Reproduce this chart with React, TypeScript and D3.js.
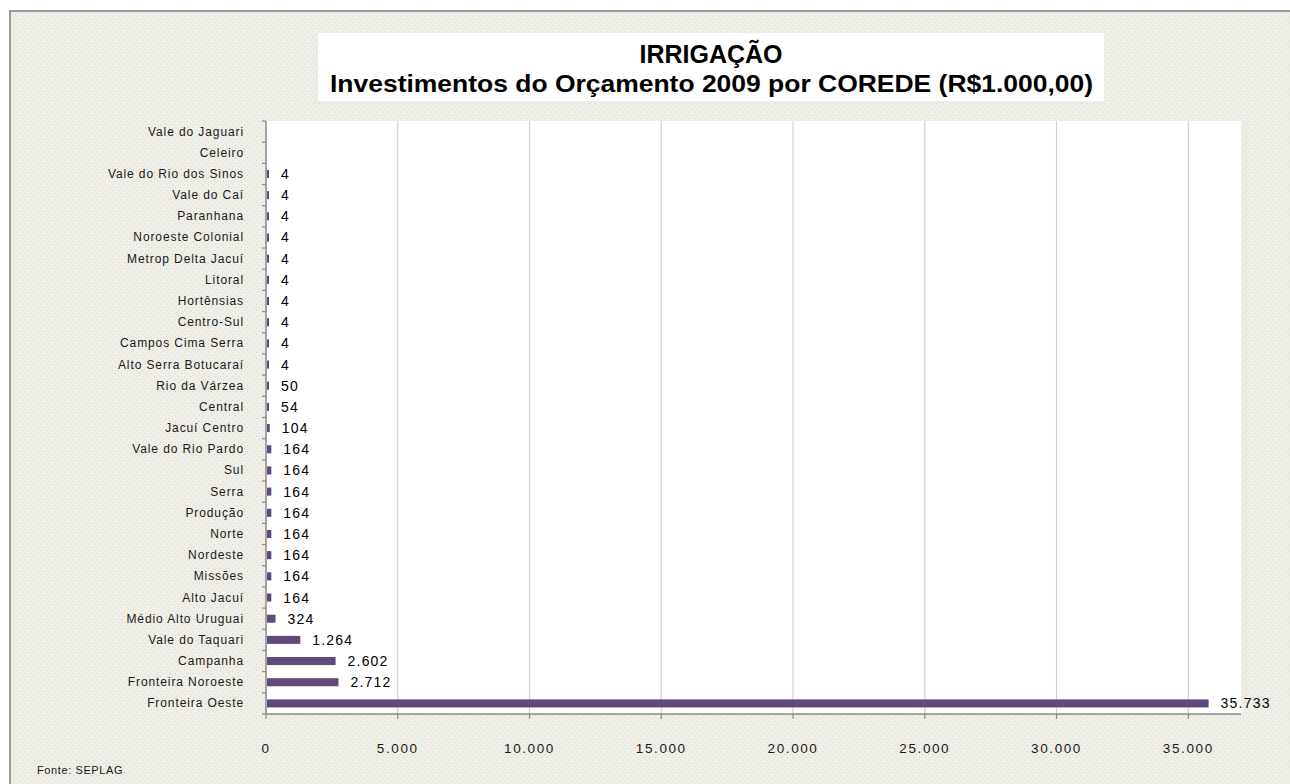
import React from "react";
import * as d3 from "d3";

// COREDE names, top to bottom as drawn
const categories = [
  "Vale do Jaguari",
  "Celeiro",
  "Vale do Rio dos Sinos",
  "Vale do Caí",
  "Paranhana",
  "Noroeste Colonial",
  "Metrop Delta Jacuí",
  "Litoral",
  "Hortênsias",
  "Centro-Sul",
  "Campos Cima Serra",
  "Alto Serra Botucaraí",
  "Rio da Várzea",
  "Central",
  "Jacuí Centro",
  "Vale do Rio Pardo",
  "Sul",
  "Serra",
  "Produção",
  "Norte",
  "Nordeste",
  "Missões",
  "Alto Jacuí",
  "Médio Alto Uruguai",
  "Vale do Taquari",
  "Campanha",
  "Fronteira Noroeste",
  "Fronteira Oeste",
];

// investimentos (R$1.000,00)
const values = [
  0, 0, 4, 4, 4, 4, 4, 4, 4, 4, 4, 4, 50, 54, 104, 164, 164, 164, 164, 164,
  164, 164, 164, 324, 1264, 2602, 2712, 35733,
];

const xTicks = [0, 5000, 10000, 15000, 20000, 25000, 30000, 35000];

const titleLine1 = "IRRIGAÇÃO";
const titleLine2 = "Investimentos do Orçamento 2009 por COREDE (R$1.000,00)";
const source = "Fonte:  SEPLAG";

const W = 1290;
const H = 784;
const plot = { left: 266, right: 1241, top: 121, bottom: 714 };

const fmt = (v: number) => d3.format(",")(v).replace(/,/g, ".");

const App = () => {
  const x = d3.scaleLinear().domain([0, 37000]).range([plot.left, plot.right]);
  const y = d3
    .scaleBand<string>()
    .domain(categories)
    .range([plot.top, plot.bottom])
    .paddingInner(0.62)
    .paddingOuter(0.31);
  const step = y.step();

  const font = "Arial, 'Liberation Sans', sans-serif";

  return (
    <svg
      width={W}
      height={H}
      style={{ position: "absolute", left: 0, top: 0, background: "#fff" }}
      fontFamily={font}
    >
      <defs>
        <pattern id="dots" width="6" height="6" patternUnits="userSpaceOnUse">
          <rect width="6" height="6" fill="#eeeee6" />
          <rect x="1" y="1" width="1" height="1" fill="#d6d6d6" />
          <rect x="4" y="4" width="1" height="1" fill="#d6d6d6" />
        </pattern>
      </defs>

      {/* outer frame */}
      <rect x={10} y={11} width={W} height={H} fill="url(#dots)" stroke="#9a9a9a" strokeWidth={2} />

      {/* title */}
      <rect x={318} y={33} width={786} height={68} fill="#ffffff" />
      <text x={711} y={63} textAnchor="middle" fontWeight="bold" fontSize={25} fill="#000">
        {titleLine1}
      </text>
      <text
        x={330}
        y={92}
        fontWeight="bold"
        fontSize={24}
        fill="#000"
        textLength={763}
        lengthAdjust="spacingAndGlyphs"
      >
        {titleLine2}
      </text>

      {/* plot area */}
      <rect
        x={plot.left}
        y={plot.top}
        width={plot.right - plot.left}
        height={plot.bottom - plot.top}
        fill="#ffffff"
      />

      {/* gridlines */}
      {xTicks
        .filter((t) => t > 0)
        .map((t) => (
          <line
            key={"g" + t}
            x1={x(t)}
            x2={x(t)}
            y1={plot.top}
            y2={plot.bottom}
            stroke="#cfcfd6"
            strokeWidth={1.2}
          />
        ))}

      {/* bars */}
      {categories.map((c, i) =>
        values[i] > 0 ? (
          <rect
            key={"b" + c}
            x={x(0) + 1}
            y={y(c)!}
            width={Math.max(2, x(values[i]) - x(0))}
            height={y.bandwidth()}
            fill="#604a7b"
          />
        ) : null
      )}

      {/* data labels */}
      {categories.map((c, i) =>
        values[i] > 0 ? (
          <text
            key={"l" + c}
            x={x(0) + Math.max(2, x(values[i]) - x(0)) + 13}
            y={y(c)! + y.bandwidth() / 2 + 5}
            fontSize={14}
            letterSpacing={1.2}
            fill="#000"
          >
            {fmt(values[i])}
          </text>
        ) : null
      )}

      {/* y axis */}
      <line x1={plot.left} x2={plot.left} y1={plot.top} y2={plot.bottom} stroke="#8a8a8a" strokeWidth={1.5} />
      {d3.range(categories.length + 1).map((k) => (
        <line
          key={"yt" + k}
          x1={plot.left - 4}
          x2={plot.left}
          y1={plot.top + k * step}
          y2={plot.top + k * step}
          stroke="#8a8a8a"
          strokeWidth={1.2}
        />
      ))}
      {categories.map((c) => (
        <text
          key={"yl" + c}
          x={244}
          y={y(c)! + y.bandwidth() / 2 + 4}
          textAnchor="end"
          fontSize={12}
          letterSpacing={0.9}
          fill="#1a1a1a"
        >
          {c}
        </text>
      ))}

      {/* x axis */}
      <line x1={plot.left} x2={plot.right} y1={plot.bottom} y2={plot.bottom} stroke="#8a8a8a" strokeWidth={1.5} />
      {xTicks.map((t) => (
        <g key={"xt" + t}>
          <line x1={x(t)} x2={x(t)} y1={plot.bottom} y2={plot.bottom + 5} stroke="#8a8a8a" strokeWidth={1.2} />
          <text
            x={x(t)}
            y={753}
            textAnchor="middle"
            fontSize={13.5}
            letterSpacing={1.6}
            fill="#1a1a1a"
          >
            {fmt(t)}
          </text>
        </g>
      ))}

      {/* source */}
      <text x={37} y={774} fontSize={11} letterSpacing={0.6} fill="#1a1a1a">
        {source}
      </text>
    </svg>
  );
};

export default App;
